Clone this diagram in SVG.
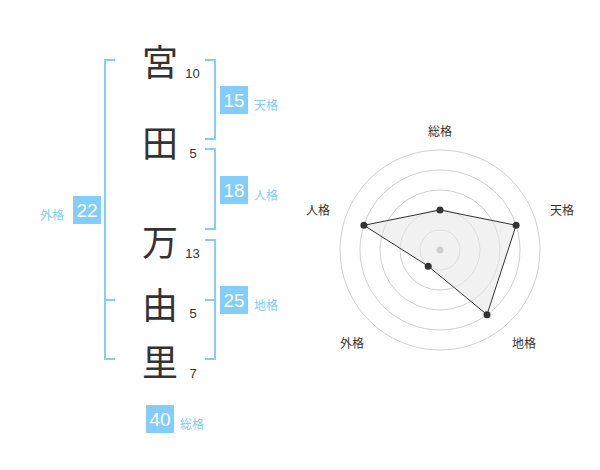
<svg xmlns="http://www.w3.org/2000/svg" width="600" height="470" viewBox="0 0 600 470">
<style>
.k{font-family:"Noto Sans CJK JP","Noto Sans CJK SC",sans-serif;font-size:36px;fill:#333;text-anchor:middle;dominant-baseline:central}
.n{font-family:"Liberation Sans",Arial,sans-serif;font-size:13px;fill:#333;text-anchor:middle;dominant-baseline:central}
.br{fill:none;stroke:#86cdf7;stroke-width:2}
.box{fill:#82cdf9}
.bt{font-family:"Liberation Sans",Arial,sans-serif;font-size:19px;fill:#fff;text-anchor:middle;dominant-baseline:central}
.lb{font-family:"Noto Sans CJK JP","Noto Sans CJK SC",sans-serif;font-size:12px;fill:#82cdf9;dominant-baseline:central}
.rl{font-family:"Noto Sans CJK JP","Noto Sans CJK SC",sans-serif;font-size:12px;fill:#333;text-anchor:middle;dominant-baseline:central}
.ring{fill:none;stroke:#d0d0d0;stroke-width:1}
.pt{fill:#333}
</style>
<rect width="600" height="470" fill="#fff"/>
<g id="chars">
<text class="k" x="160" y="60">宮</text>
<text class="k" x="160" y="141">田</text>
<text class="k" x="160" y="240">万</text>
<text class="k" x="160" y="303">由</text>
<text class="k" x="160" y="360">里</text>
</g>
<g id="strokes">
<text class="n" x="192.5" y="73">10</text>
<text class="n" x="193" y="153">5</text>
<text class="n" x="192.5" y="253">13</text>
<text class="n" x="193" y="313">5</text>
<text class="n" x="193" y="373">7</text>
</g>
<g id="connectors">
<path class="br" d="M205,60 H215 V139 H205"/>
<path class="br" d="M205,149 H215 V229 H205"/>
<path class="br" d="M205,240 H215 V359 H205 M205,300 H215"/>
<path class="br" d="M115,60 H105 V359 H115 M105,300 H115"/>
</g>
<g id="tenkaku">
<rect class="box" x="220" y="86" width="28" height="28"/>
<text class="bt" x="234" y="100">15</text>
<text class="lb" x="254" y="104">天格</text>
</g>
<g id="jinkaku">
<rect class="box" x="220" y="176" width="28" height="28"/>
<text class="bt" x="234" y="190">18</text>
<text class="lb" x="254" y="194">人格</text>
</g>
<g id="chikaku">
<rect class="box" x="220" y="286" width="28" height="28"/>
<text class="bt" x="234" y="300">25</text>
<text class="lb" x="254" y="304">地格</text>
</g>
<g id="gaikaku">
<rect class="box" x="73" y="196" width="28" height="28"/>
<text class="bt" x="87" y="210">22</text>
<text class="lb" x="64" y="214" text-anchor="end">外格</text>
</g>
<g id="soukaku">
<rect class="box" x="146" y="405" width="28" height="28"/>
<text class="bt" x="160" y="419">40</text>
<text class="lb" x="180" y="423">総格</text>
</g>
<g id="radar">
<circle class="ring" cx="440" cy="250" r="20"/>
<circle class="ring" cx="440" cy="250" r="40"/>
<circle class="ring" cx="440" cy="250" r="60"/>
<circle class="ring" cx="440" cy="250" r="80"/>
<circle class="ring" cx="440" cy="250" r="100"/>
<polygon points="440,210 516.1,225.3 487,314.7 428.2,266.2 363.9,225.3" fill="#e8e8e8" fill-opacity="0.6" stroke="#333" stroke-width="1"/>
<circle cx="440" cy="250" r="3.5" fill="#ccc"/>
<circle class="pt" cx="440" cy="210" r="3.5"/>
<circle class="pt" cx="516.1" cy="225.3" r="3.5"/>
<circle class="pt" cx="487" cy="314.7" r="3.5"/>
<circle class="pt" cx="428.2" cy="266.2" r="3.5"/>
<circle class="pt" cx="363.9" cy="225.3" r="3.5"/>
<text class="rl" x="440" y="130">総格</text>
<text class="rl" x="562" y="209">天格</text>
<text class="rl" x="524" y="342">地格</text>
<text class="rl" x="352" y="342">外格</text>
<text class="rl" x="318" y="209">人格</text>
</g>
</svg>
